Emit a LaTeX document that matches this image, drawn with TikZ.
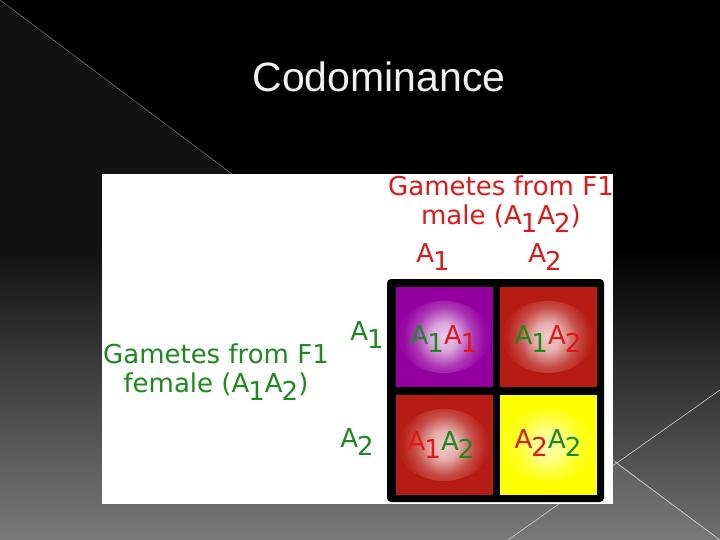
\documentclass[tikz,border=0pt]{standalone}
\usepackage{fontspec}
\setmainfont{DejaVu Sans}
\newfontfamily\titlefont{Liberation Sans}
\usetikzlibrary{positioning}
\definecolor{genred}{RGB}{226,24,24}
\definecolor{gengreen}{RGB}{28,138,28}
\definecolor{cellpurple}{RGB}{148,0,160}
\definecolor{cellred}{RGB}{183,28,20}
\definecolor{cellyellow}{RGB}{255,255,0}
\pgfdeclareradialshading{glowpurple}{\pgfpointorigin}{color(0bp)=(white!80!cellpurple);
    color(7bp)=(white!65!cellpurple); color(15bp)=(white!22!cellpurple);
    color(21bp)=(white!4!cellpurple); color(25bp)=(cellpurple); color(50bp)=(cellpurple)}
\pgfdeclareradialshading{glowred}{\pgfpointorigin}{color(0bp)=(white!78!cellred);
    color(7bp)=(white!65!cellred); color(15bp)=(white!22!cellred);
    color(21bp)=(white!4!cellred); color(25bp)=(cellred); color(50bp)=(cellred)}
\pgfdeclareradialshading{glowyellow}{\pgfpointorigin}{color(0bp)=(white!70!cellyellow);
    color(8bp)=(white!50!cellyellow); color(16bp)=(white!15!cellyellow);
    color(25bp)=(cellyellow); color(50bp)=(cellyellow)}
\newcommand{\gene}[1]{A\kern-1pt\raisebox{-0.32em}{#1}}

\begin{document}
\begin{tikzpicture}[x=1pt,y=-1pt,node distance=8pt,
    label/.style={font=\fontsize{26}{28}\selectfont,inner sep=0pt},
    cell/.style 2 args={minimum width=97pt,minimum height=100pt,inner sep=0pt,
        fill=#1,
        path picture={\shade[shading=#2]
            (path picture bounding box.center) ellipse (46pt and 36pt);}}]
    \useasboundingbox (0,0) rectangle (720,540);
    % slide background
    \fill[black] (0,0) rectangle (720,540);
    \shade[top color=black,bottom color={rgb,255:red,112;green,112;blue,112}] (0,250) rectangle (720,540);
    \fill[white,opacity=0.07] (0,0) -- (720,540) -- (0,540) -- cycle;
    \draw[gray!70,opacity=0.6,line width=0.6pt] (0,0) -- (720,540);
    \draw[gray!40,line width=0.6pt] (720,390) -- (508,540);
    \draw[gray!40,line width=0.6pt] (615,462) -- (720,540);
    \node[font=\titlefont\fontsize{41}{46}\selectfont,text=gray!12] (title) at (379,77) {Codominance};
    % white panel
    \fill[white] (102,174) rectangle (613,504);
    % punnett square
    \fill[black,rounded corners=4pt] (387,279) rectangle (604,502);
    \node[cell={cellpurple}{glowpurple}] (c11) at (444,337) {};
    \node[cell={cellred}{glowred}] (c12) at (548,337) {};
    \node[cell={cellred}{glowred}] (c21) at (444,445) {};
    \node[cell={cellyellow}{glowyellow}] (c22) at (548,445) {};
    \node[label] (g11) at (444,339) {\textcolor{gengreen}{\gene1}\textcolor{genred}{\gene1}};
    \node[label] (g12) at (548,339) {\textcolor{gengreen}{\gene1}\textcolor{genred}{\gene2}};
    \node[label] (g21) at (441,445) {\textcolor{genred}{\gene1}\textcolor{gengreen}{\gene2}};
    \node[label] (g22) at (548,443) {\textcolor{genred}{\gene2}\textcolor{gengreen}{\gene2}};
    % male gametes
    \node[label,text=genred] (maletop) at (501,186) {Gametes from F1};
    \node[label,text=genred] (male) [below=of maletop] {male (\gene1\gene2)};
    \node[label,text=genred] (col1) at (433,257) {\gene1};
    \node[label,text=genred] (col2) at (545,257) {\gene2};
    % female gametes
    \node[label,text=gengreen] (femtop) at (216,354) {Gametes from F1};
    \node[label,text=gengreen] (female) [below=of femtop] {female (\gene1\gene2)};
    \node[label,text=gengreen] (row1) at (367,335) {\gene1};
    \node[label,text=gengreen] (row2) at (357,442) {\gene2};
\end{tikzpicture}
\end{document}
